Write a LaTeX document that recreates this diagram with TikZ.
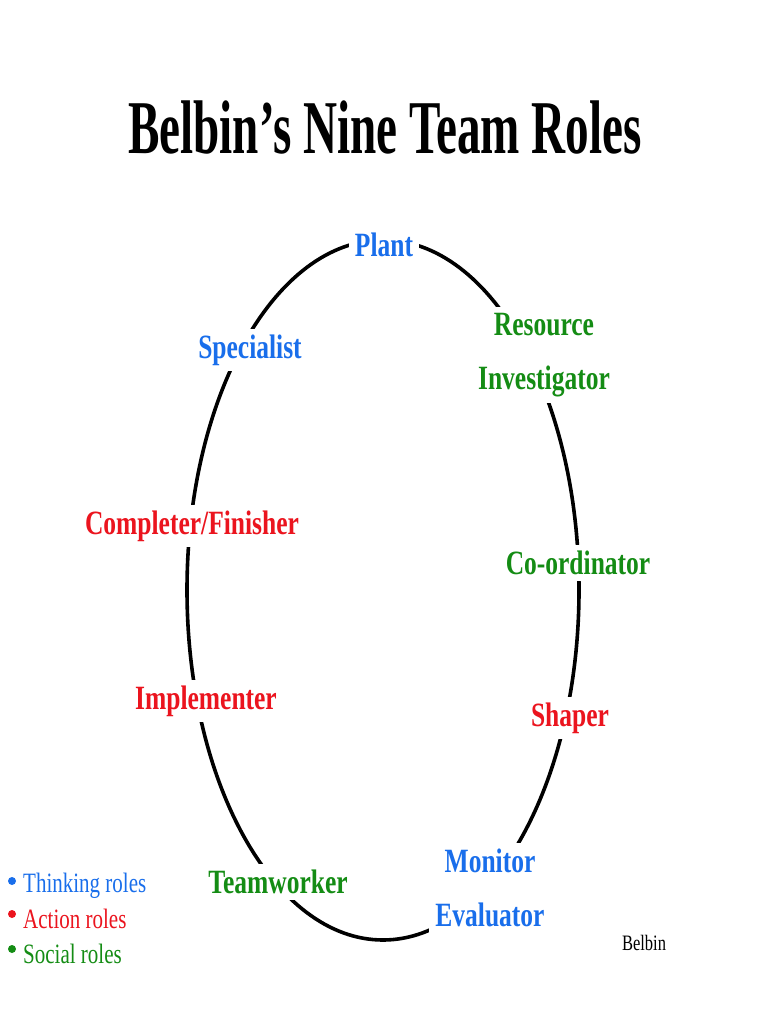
\documentclass[tikz,border=0pt]{standalone}
\usepackage{fontspec}
\newfontfamily\condbf[FakeStretch=0.75]{Liberation Serif}
\newfontfamily\titlebf[FakeStretch=0.62]{Liberation Serif}
\definecolor{thinkblue}{RGB}{25,110,235}
\definecolor{actred}{RGB}{235,20,30}
\definecolor{socgreen}{RGB}{20,140,20}
\tikzset{
  role/.style={fill=white,inner sep=6pt,align=center,font=\condbf\bfseries\fontsize{34}{54}\selectfont},
  legend/.style={anchor=west,inner sep=0pt,font=\condbf\fontsize{28}{32}\selectfont}
}
\begin{document}
\begin{tikzpicture}[x=1pt,y=-1pt]
    \useasboundingbox (0,0) rectangle (768,1024);

    % Title
    \node[font=\titlebf\bfseries\fontsize{76}{90}\selectfont] (title) at (385,128) {Belbin’s Nine Team Roles};

    % Ring of roles
    \draw[line width=3.6pt] (383,590) ellipse (196 and 350);

    \node[role,text=thinkblue] (plant) at (384,245) {Plant};
    \node[role,text=socgreen] (resinv) at (544,355) {Resource\\Investigator};
    \node[role,text=thinkblue] (spec) at (250,350) {Specialist};
    \node[role,text=actred] (compl) at (192,526) {Completer/Finisher};
    \node[role,text=socgreen] (coord) at (578,563) {Co-ordinator};
    \node[role,text=actred] (impl) at (206,701) {Implementer};
    \node[role,text=actred] (shaper) at (570,718) {Shaper};
    \node[role,text=thinkblue] (moneval) at (490,888) {Monitor\\Evaluator};
    \node[role,text=socgreen] (teamw) at (278,882) {Teamworker};

    % Legend
    \fill[thinkblue] (12,881) circle (4);
    \node[legend,text=thinkblue] (lthink) at (23,886) {Thinking roles};
    \fill[actred] (12,914) circle (4);
    \node[legend,text=actred] (laction) at (23,919) {Action roles};
    \fill[socgreen] (12,949) circle (4);
    \node[legend,text=socgreen] (lsocial) at (23,954) {Social roles};

    \node[font=\condbf\fontsize{22}{24}\selectfont] (src) at (644,943) {Belbin};
\end{tikzpicture}
\end{document}
